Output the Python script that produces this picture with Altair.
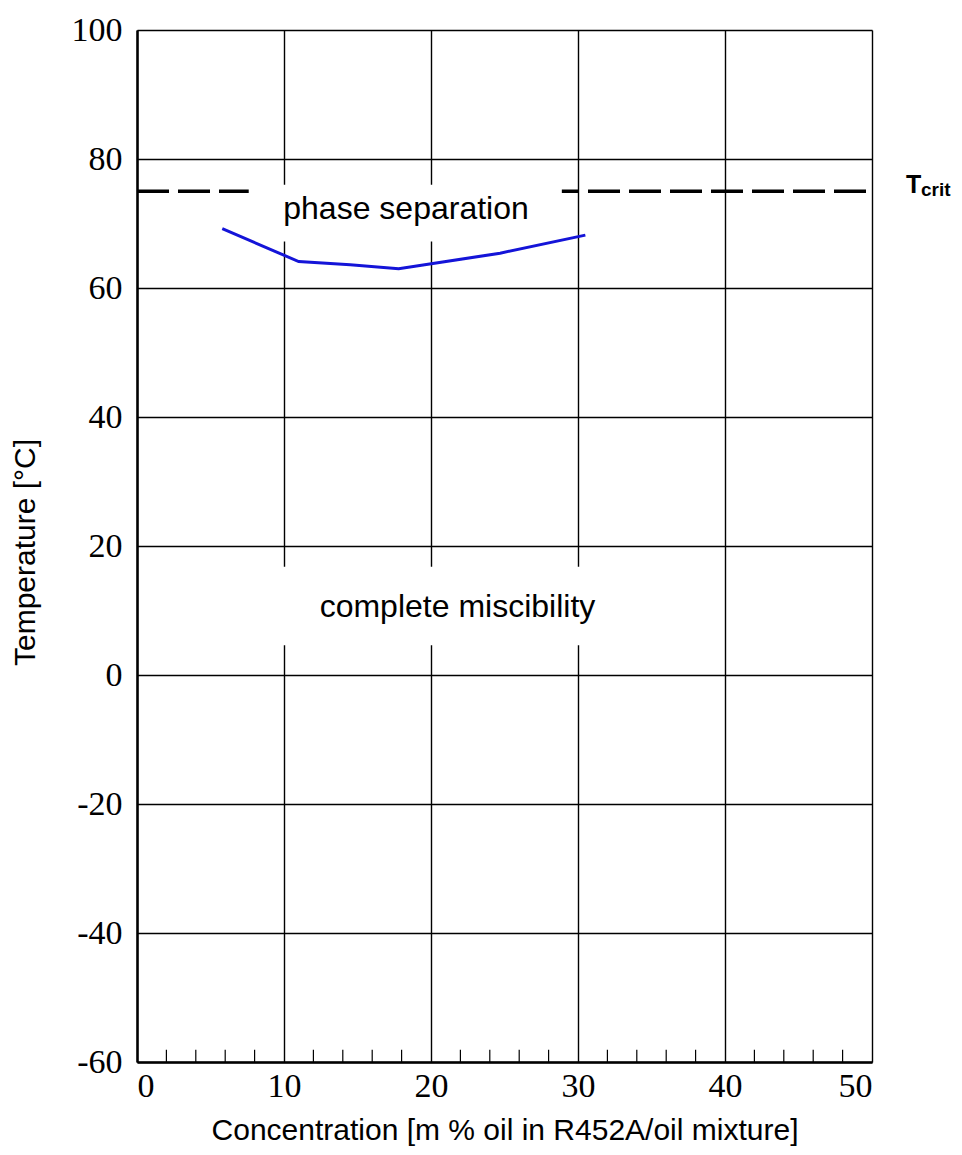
import altair as alt
import pandas as pd

# Data
curve_x = [5.8, 11.0, 14.5, 17.8, 24.7, 30.5]
curve_y = [69.2, 64.1, 63.6, 63.0, 65.4, 68.2]
tcrit_x = [0, 50.2]
tcrit_y = 75
minor_ticks = [2, 4, 6, 8, 12, 14, 16, 18, 22, 24, 26, 28, 32, 34, 36, 38, 42, 44, 46, 48]
x_ticks = [0, 10, 20, 30, 40, 50]
y_ticks = [-60, -40, -20, 0, 20, 40, 60, 80, 100]

labels = ["phase separation", "complete miscibility"]
label_x = [18.3, 21.8]
label_y = [72.2, 10.5]
box_x1 = [7.6, 8.0]
box_x2 = [28.9, 31.0]
box_y1 = [67.2, 4.6]
box_y2 = [76.0, 16.8]

curve_df = pd.DataFrame({"x": curve_x, "y": curve_y})
tcrit_df = pd.DataFrame({"x": tcrit_x, "y": [tcrit_y] * len(tcrit_x)})
minor_df = pd.DataFrame({"x": minor_ticks, "y": [-60] * len(minor_ticks), "y2": [-58.1] * len(minor_ticks)})
box_df = pd.DataFrame({"x": box_x1, "x2": box_x2, "y": box_y1, "y2": box_y2})
lab_df = pd.DataFrame({"label": labels, "x": label_x, "y": label_y})
tc_df = pd.DataFrame({"x": [50], "y": [tcrit_y]})

xs = alt.Scale(domain=[0, 50], nice=False, zero=False)
ys = alt.Scale(domain=[-60, 100], nice=False, zero=False)

x_axis = alt.Axis(values=x_ticks, grid=True, gridColor="black", gridWidth=1.4, gridOpacity=1,
                  ticks=False, domainColor="black", domainWidth=2.5,
                  labelFont="Liberation Serif", labelFontSize=34, labelColor="black",
                  labelPadding=7, labelExpr="datum.value + ''",
                  title="Concentration [m % oil in R452A/oil mixture]",
                  titleFont="Liberation Sans", titleFontSize=30, titleFontWeight="normal",
                  titleColor="black", titlePadding=12)
y_axis = alt.Axis(values=y_ticks, grid=True, gridColor="black", gridWidth=1.4, gridOpacity=1,
                  ticks=False, domainColor="black", domainWidth=2.5,
                  labelFont="Liberation Serif", labelFontSize=34, labelColor="black",
                  labelPadding=15, labelExpr="datum.value + ''",
                  title="Temperature [°C]",
                  titleFont="Liberation Sans", titleFontSize=30, titleFontWeight="normal",
                  titleColor="black", titlePadding=31, titleY=522)

tcrit_line = alt.Chart(tcrit_df).mark_line(color="black", strokeWidth=3.5, strokeDash=[32, 9], clip=False).encode(
    x=alt.X("x:Q", scale=xs, axis=x_axis),
    y=alt.Y("y:Q", scale=ys, axis=y_axis),
)

boxes = alt.Chart(box_df).mark_rect(color="white").encode(
    x=alt.X("x:Q", scale=xs), x2="x2:Q",
    y=alt.Y("y:Q", scale=ys), y2="y2:Q",
)

texts = alt.Chart(lab_df).mark_text(font="Liberation Sans", fontSize=32, color="black",
                                    align="center", baseline="middle").encode(
    x=alt.X("x:Q", scale=xs), y=alt.Y("y:Q", scale=ys), text="label:N"
)

curve = alt.Chart(curve_df).mark_line(color="#1414d8", strokeWidth=3).encode(
    x=alt.X("x:Q", scale=xs), y=alt.Y("y:Q", scale=ys)
)

minor = alt.Chart(minor_df).mark_rule(color="black", strokeWidth=1.2).encode(
    x=alt.X("x:Q", scale=xs), y=alt.Y("y:Q", scale=ys), y2="y2:Q"
)

t_main = alt.Chart(tc_df).mark_text(text="T", font="Liberation Sans", fontSize=25, fontWeight="bold",
                                    color="black", align="left", baseline="alphabetic", dx=34, dy=2,
                                    clip=False).encode(
    x=alt.X("x:Q", scale=xs), y=alt.Y("y:Q", scale=ys)
)
t_sub = alt.Chart(tc_df).mark_text(text="crit", font="Liberation Sans", fontSize=19, fontWeight="bold",
                                   color="black", align="left", baseline="alphabetic", dx=49, dy=5,
                                   clip=False).encode(
    x=alt.X("x:Q", scale=xs), y=alt.Y("y:Q", scale=ys)
)

chart = alt.layer(tcrit_line, boxes, texts, curve, minor, t_main, t_sub).properties(
    width=735, height=1032,
    autosize=alt.AutoSizeParams(type="none"),
    padding={"left": 129, "top": 22, "right": 82, "bottom": 85},
).configure_view(stroke="black", strokeWidth=1.4).configure(background="white")

chart.save("out.html", embed_options={"renderer": "svg", "actions": False})
